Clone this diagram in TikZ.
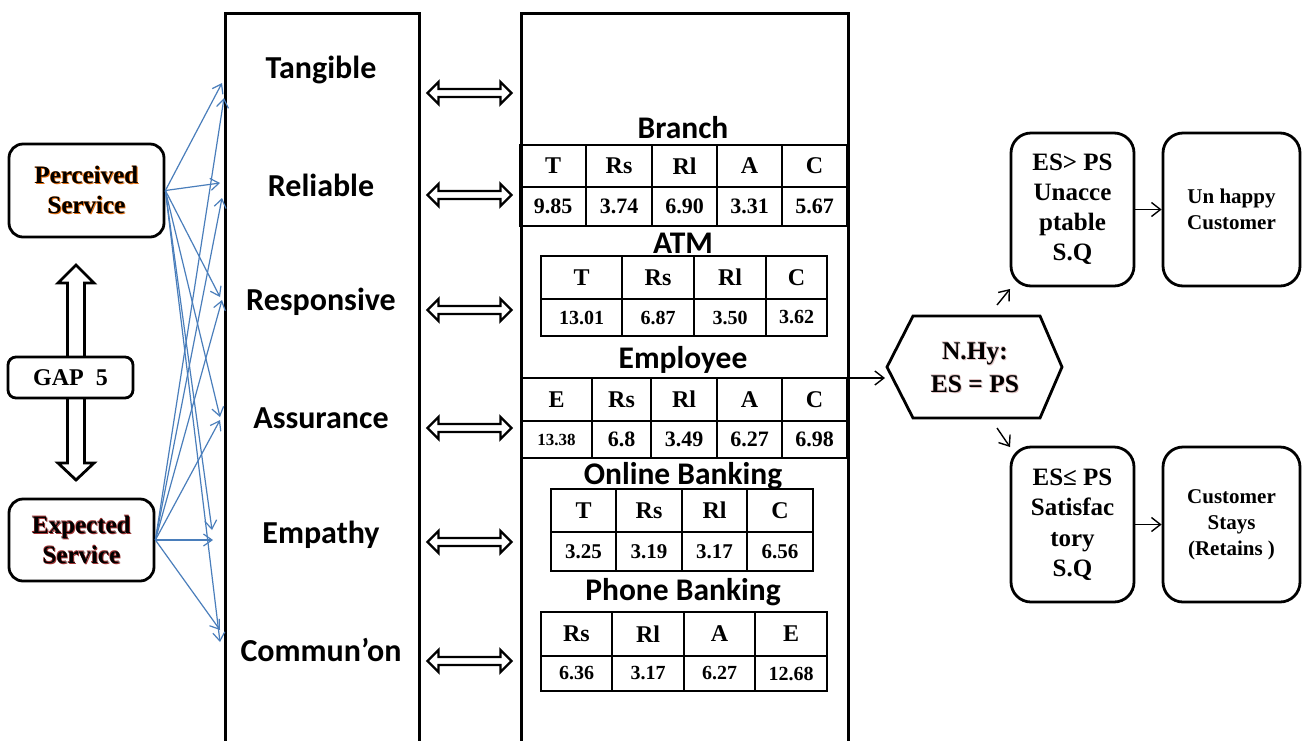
\documentclass[tikz,border=0pt]{standalone}
\usepackage{fontspec}
\setmainfont{Liberation Serif}
\newfontfamily\carl{Carlito}
\usetikzlibrary{arrows.meta}
\definecolor{lineblue}{RGB}{74,126,187}
\definecolor{glowor}{RGB}{228,108,10}
\definecolor{glowred}{RGB}{160,50,50}
\definecolor{glowpink}{RGB}{225,195,195}
\newcommand\glowtxt[2]{\leavevmode\rlap{\textcolor{#1}{\kern0.9pt\raisebox{-0.9pt}{#2}}}\rlap{\textcolor{#1}{\kern-0.6pt\raisebox{0.6pt}{#2}}}#2}
\newcommand\sz[2]{\fontsize{#1}{#2}\selectfont}
\tikzset{
  roundbox/.style={draw, line width=2.8pt, rounded corners=14pt, fill=white, align=center, inner sep=0pt},
  resbox/.style={draw, line width=2.8pt, rounded corners=20pt, align=center, inner sep=0pt},
  colbox/.style={draw, line width=2.8pt, inner sep=0pt},
  collab/.style={font=\carl\bfseries\sz{32}{36}},
  sechead/.style={font=\carl\bfseries\sz{31.5}{36}, inner sep=0pt},
  bluearr/.style={draw=lineblue, line width=1.2pt, -{Straight Barb[length=8.5pt,width=12pt]}},
  blkarr/.style={draw=black, line width=1.4pt, -{Straight Barb[length=9pt,width=14pt]}},
  cell/.style={draw, line width=1.6pt, inner sep=0pt},
  dblarrow/.pic={\draw[line width=2.4pt, fill=white] (-42,0) -- (-31,-11) -- (-31,-4) -- (31,-4) -- (31,-11) -- (42,0) -- (31,11) -- (31,4) -- (-31,4) -- (-31,11) -- cycle;}
}
% #1 name, #2 top, #3 mid, #4 bottom, #5 header size, #6 value size, #7 list
\newcommand\ptable[7]{%
  \foreach \xa/\xb/\hh/\vv [count=\i] in {#7}{
    \node[cell, minimum width={(\xb-\xa)*1pt}, minimum height={(#3-#2)*1pt}, font=\bfseries\sz{#5}{#5}] (#1h\i) at ({(\xa+\xb)/2},{(#2+#3)/2}) {\hh};
    \node[cell, minimum width={(\xb-\xa)*1pt}, minimum height={(#4-#3)*1pt}, font=\bfseries\sz{#6}{#6}] (#1v\i) at ({(\xa+\xb)/2},{(#3+#4)/2}) {\vv};
  }}
\begin{document}
\begin{tikzpicture}[x=1pt,y=-1pt]
\useasboundingbox (0,0) rectangle (1303,740);
\clip (0,0) rectangle (1303,740);
\fill[white] (0,0) rectangle (1303,740);

% columns
\node[colbox, anchor=north west, minimum width=194pt, minimum height=760pt] (dims) at (224,12) {};
\node[colbox, anchor=north west, minimum width=327pt, minimum height=760pt] (chan) at (520,12) {};

% dimension labels
\node[collab] (tang) at (321,70) {Tangible};
\node[collab] (reli) at (321,185) {Reliable};
\node[collab] (resp) at (321,302) {Responsive};
\node[collab] (assu) at (321,418) {Assurance};
\node[collab] (empa) at (321,535) {Empathy};
\node[collab] (comm) at (321,650) {Commun’on};

% double arrows between columns
\pic (da1) at (469.5,93) {dblarrow};
\pic (da2) at (469.5,195) {dblarrow};
\pic (da3) at (469.5,310) {dblarrow};
\pic (da4) at (469.5,428) {dblarrow};
\pic (da5) at (469.5,542) {dblarrow};
\pic (da6) at (469.5,661) {dblarrow};

% GAP vertical arrow
\draw[line width=2.8pt, fill=white] (76,265) -- (94,283) -- (84.5,283) -- (84.5,463) -- (94,463) -- (76,480) -- (58,463) -- (67.5,463) -- (67.5,283) -- (58,283) -- cycle;

% left boxes
\node[roundbox, minimum width=155pt, minimum height=93pt, font=\bfseries\sz{25}{30}] (perc) at (86.5,190.5) {\glowtxt{glowor}{Perceived}\\\glowtxt{glowor}{Service}};
\node[roundbox, minimum width=145pt, minimum height=82pt, font=\bfseries\sz{25}{30}] (expt) at (81.5,540) {\glowtxt{glowred}{Expected}\\\glowtxt{glowred}{Service}};
\node[roundbox, rounded corners=8pt, minimum width=125pt, minimum height=41pt, font=\bfseries\sz{24}{28}] (gap) at (70.5,377.5) {GAP\ \ 5};

% blue arrow targets
\coordinate (p1) at (222,83);
\coordinate (p2) at (220,183);
\coordinate (p3) at (220,297);
\coordinate (p4) at (220,417);
\coordinate (p5) at (212,530);
\coordinate (p6) at (220,642);
\coordinate (e1) at (224,98);
\coordinate (e2) at (222,198);
\coordinate (e3) at (222,300);
\coordinate (e4) at (220,420);
\coordinate (e5) at (213,540);
\coordinate (e6) at (220,630);
\foreach \t in {p1,p2,p3,p4,p5,p6}{\draw[bluearr] (perc.east) -- (\t);}
\foreach \t in {e1,e2,e3,e4,e5,e6}{\draw[bluearr] (expt.east) -- (\t);}

% channel section heads
\node[sechead] (hbr) at (683,128) {Branch};
\node[sechead] (hatm) at (683,243) {ATM};
\node[sechead] (hemp) at (683,360) {Employee};
\node[sechead] (honl) at (683,476) {Online Banking};
\node[sechead] (hph) at (683,592) {Phone Banking};

% tables
\ptable{br}{145}{187}{226}{24}{22}{520/586/T/9.85, 586/652/Rs/3.74, 652/717/Rl/6.90, 717/782/A/3.31, 782/847/C/5.67}
\ptable{atm}{256}{299}{336}{24}{20}{541/622/T/13.01, 622/694/Rs/6.87, 694/766/Rl/3.50, 766/827/C/3.62}
\ptable{emp}{378}{421}{458}{24}{22}{521/592/E/{\sz{17}{17}13.38}, 592/651/Rs/6.8, 651/717/Rl/3.49, 717/782/A/6.27, 782/847/C/6.98}
\ptable{onl}{489}{532}{571}{24}{21}{551/616/T/3.25, 616/682/Rs/3.19, 682/747/Rl/3.17, 747/813/C/6.56}
\ptable{ph}{612}{656}{691}{24}{20}{541/612/Rs/6.36, 612/684/Rl/3.17, 684/755/A/6.27, 755/827/E/12.68}

% hypothesis hexagon
\draw[line width=2.8pt] (887,367) -- (913,316) -- (1040,316) -- (1062,367) -- (1040,418) -- (913,418) -- cycle;
\node[align=center, font=\bfseries\sz{25.5}{33}] (hyp) at (975,368) {\glowtxt{glowpink}{N.Hy:}\\\glowtxt{glowpink}{ES = PS}};
\coordinate (hexin) at (885,378);
\draw[blkarr] (chan.north east |- hexin) -- (hexin);

% result boxes
\node[resbox, minimum width=123pt, minimum height=153pt, font=\bfseries\sz{25}{30}] (unacc) at (1072.5,209.5) {ES> PS\\Unacce\\ptable\\S.Q};
\node[resbox, minimum width=137pt, minimum height=153pt, font=\bfseries\sz{21}{26}] (unhap) at (1231.5,209.5) {Un happy\\Customer};
\node[resbox, minimum width=123pt, minimum height=155pt, font=\bfseries\sz{25}{30.5}] (satis) at (1072.5,524.5) {ES≤ PS\\Satisfac\\tory\\S.Q};
\node[resbox, minimum width=137pt, minimum height=155pt, font=\bfseries\sz{21}{26}] (stays) at (1231.5,524.5) {Customer\\Stays\\(Retains )};

\draw[blkarr] (unacc.east) -- (unhap.west);
\draw[blkarr] (satis.east) -- (stays.west);

\coordinate (upa) at (997,305);
\coordinate (upb) at (1010,289);
\coordinate (dna) at (997,428);
\coordinate (dnb) at (1010,447);
\draw[blkarr] (upa) -- (upb);
\draw[blkarr] (dna) -- (dnb);
\end{tikzpicture}
\end{document}
